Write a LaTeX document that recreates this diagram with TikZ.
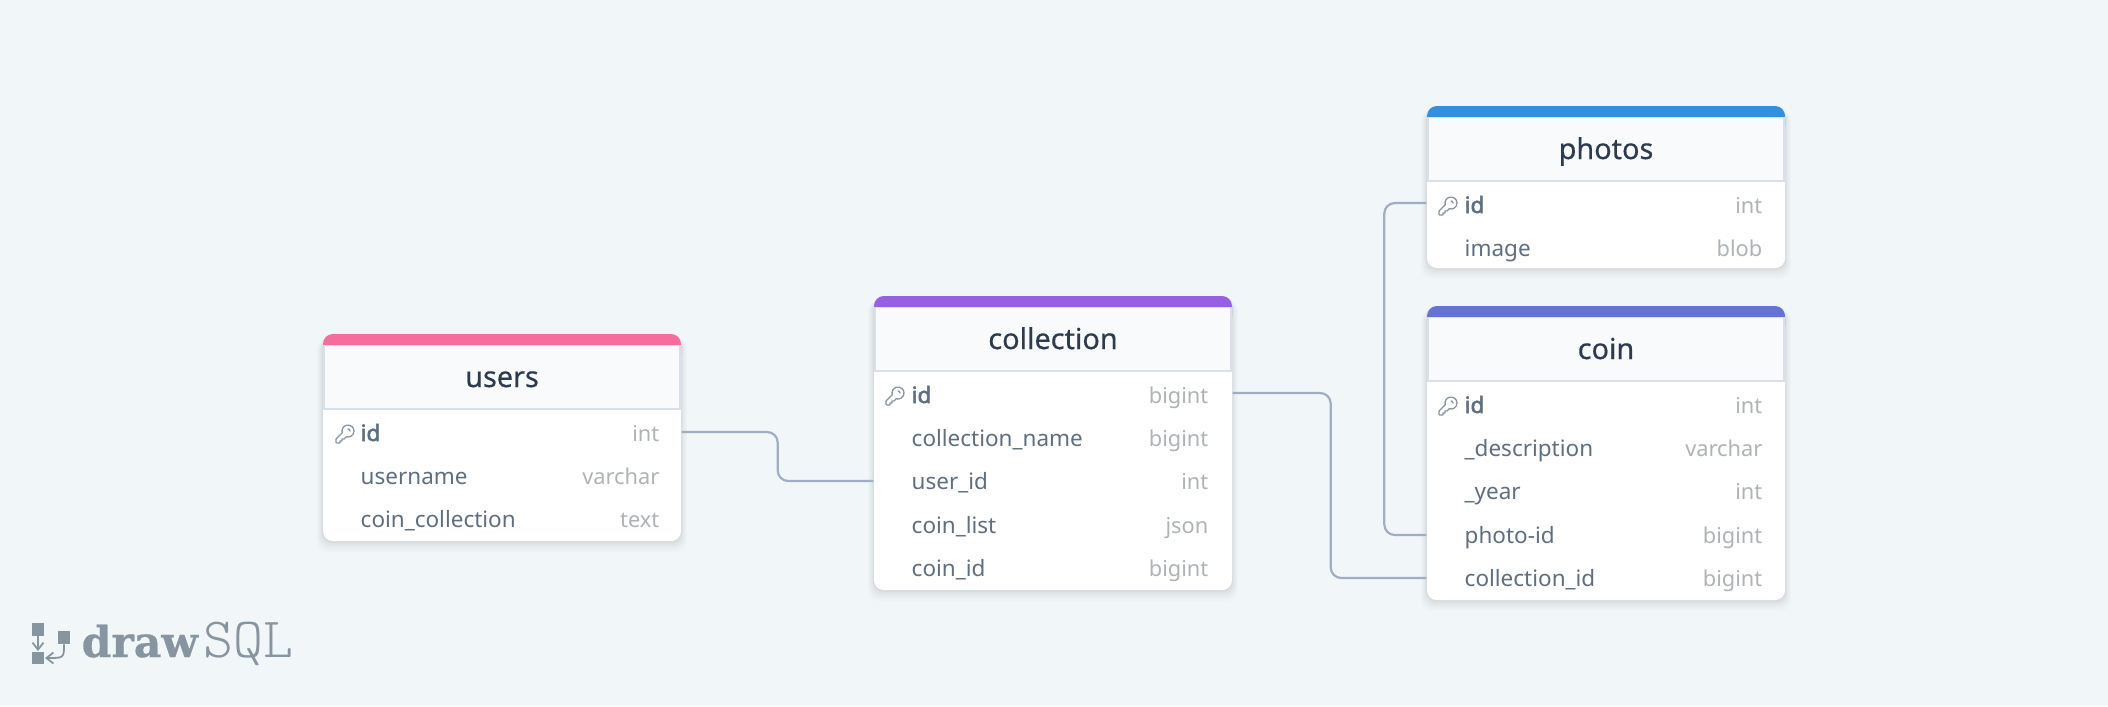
\documentclass[tikz,border=0pt]{standalone}
\usepackage{fontspec}
\setmainfont{Noto Sans}
\newfontfamily\slabfont{DejaVu Serif}[FakeBold=0.6]
\newfontfamily\keyfieldfont{Noto Sans}[FakeBold=2.2]
\newfontfamily\titlefont{Noto Sans}[FakeBold=0.4]
\usetikzlibrary{positioning,svg.path,arrows.meta}
\definecolor{pagebg}{HTML}{F1F6F9}
\definecolor{headbg}{HTML}{F8FAFC}
\definecolor{headline}{HTML}{D8E0EA}
\definecolor{titletext}{HTML}{2D3B50}
\definecolor{fieldtext}{HTML}{5F6F7F}
\definecolor{typetext}{HTML}{B0B3B6}
\definecolor{linkline}{HTML}{A0AEC4}
\definecolor{logotext}{HTML}{8795A1}
\definecolor{bandpink}{HTML}{F66D9B}
\definecolor{bandviolet}{HTML}{9561E2}
\definecolor{bandblue}{HTML}{3490DC}
\definecolor{bandindigo}{HTML}{6574CD}
\tikzset{
	tablebody/.style={fill=white,draw=none,rounded corners=2.8},
	tablehead/.style={fill=headbg,draw=headline,line width=0.16mm},
	tabletitle/.style={text=titletext,font=\titlefont\fontsize{8.2}{10}\selectfont,anchor=base},
	fieldrow/.style={minimum width=3.58cm,minimum height=0.43cm,inner sep=0pt,anchor=center},
	fieldname/.style={text=fieldtext,font=\fontsize{6.4}{8}\selectfont,anchor=base west,inner sep=0pt},
	fieldtype/.style={text=typetext,font=\fontsize{6.2}{8}\selectfont,anchor=base east,inner sep=0pt},
	keyicon/.style={draw=logotext,line width=0.13mm,line join=round,line cap=round},
	linkpath/.style={draw=linkline,line width=0.22mm,rounded corners=3},
	logobox/.style={fill=logotext,draw=none,minimum size=0.125cm,inner sep=0pt},
	logolink/.style={logotext,line width=0.18mm,-{Straight Barb[length=0.7mm,width=1.1mm]}}
}
% table frame: left, top, bottom, colour
\newcommand{\tableframe}[4]{
	\foreach \spread/\op in {5/0.012,4/0.015,3/0.02,2/0.025,1/0.03}
		\fill [black,opacity=\op,rounded corners=3] (#1-\spread*0.012,-#2-0.04) rectangle (#1+3.58+\spread*0.012,-#3-\spread*0.022);
	\fill [tablebody] (#1,-#2) rectangle (#1+3.58,-#3);
	\fill [#4,rounded corners=2.8] (#1,-#2) rectangle (#1+3.58,-#2-0.3);
	\draw [tablehead] (#1+0.008,-#2-0.115) rectangle (#1+3.572,-#2-0.75);
}
% key glyph, the box is 24 units wide and one unit is 0.01cm
\newcommand{\keyglyph}[2]{
	\draw [keyicon,shift={(#1,-#2)},xscale=0.2845,yscale=-0.2845] svg {M15 7 a2 2 0 0 1 2 2 m4 0 a6 6 0 0 1 -7.743 5.743 L11 17 H9 v2 H7 v2 H4 a1 1 0 0 1 -1 -1 v-2.586 a1 1 0 0 1 .293 -.707 l5.964 -5.964 A6 6 0 1 1 21 9 z};
}
\begin{document}
\begin{tikzpicture}
	\fill [pagebg] (0,0) rectangle (21.08,-7.06);
	\useasboundingbox (0,0) rectangle (21.08,-7.06);

	% users
	\tableframe{3.23}{3.34}{5.41}{bandpink}
	\node [tabletitle] (users) at (5.02,-3.87) {users};
	\node [fieldrow] (usersid) at (5.02,-4.32) {};
	\node [fieldrow] (usersname) at (5.02,-4.76) {};
	\node [fieldrow] (userscoll) at (5.02,-5.19) {};
	\keyglyph{3.33}{4.22}
	\node [fieldname] (usersidl) at (3.60,-4.41) {\keyfieldfont id};
	\node [fieldtype] (usersidt) at (6.60,-4.41) {int};
	\node [fieldname] (usersnamel) at (3.60,-4.84) {username};
	\node [fieldtype] (usersnamet) at (6.60,-4.84) {varchar};
	\node [fieldname] (userscolll) at (3.60,-5.27) {coin\_collection};
	\node [fieldtype] (userscollt) at (6.60,-5.27) {text};

	% collection
	\tableframe{8.74}{2.96}{5.90}{bandviolet}
	\node [tabletitle] (collection) at (10.53,-3.49) {collection};
	\node [fieldrow] (collid) at (10.53,-3.93) {};
	\node [fieldrow] (collname) at (10.53,-4.38) {};
	\node [fieldrow] (colluser) at (10.53,-4.81) {};
	\node [fieldrow] (colllist) at (10.53,-5.25) {};
	\node [fieldrow] (collcoin) at (10.53,-5.68) {};
	\keyglyph{8.83}{3.84}
	\node [fieldname] (collidl) at (9.11,-4.03) {\keyfieldfont id};
	\node [fieldtype] (collidt) at (12.09,-4.03) {bigint};
	\node [fieldname] (collnamel) at (9.11,-4.46) {collection\_name};
	\node [fieldtype] (collnamet) at (12.09,-4.46) {bigint};
	\node [fieldname] (colluserl) at (9.11,-4.895) {user\_id};
	\node [fieldtype] (collusert) at (12.09,-4.895) {int};
	\node [fieldname] (colllistl) at (9.11,-5.33) {coin\_list};
	\node [fieldtype] (colllistt) at (12.09,-5.33) {json};
	\node [fieldname] (collcoinl) at (9.11,-5.76) {coin\_id};
	\node [fieldtype] (collcoint) at (12.09,-5.76) {bigint};

	% photos
	\tableframe{14.27}{1.06}{2.68}{bandblue}
	\node [tabletitle] (photos) at (16.06,-1.59) {photos};
	\node [fieldrow] (photoid) at (16.06,-2.03) {};
	\node [fieldrow] (photoimg) at (16.06,-2.48) {};
	\keyglyph{14.36}{1.94}
	\node [fieldname] (photoidl) at (14.64,-2.13) {\keyfieldfont id};
	\node [fieldtype] (photoidt) at (17.63,-2.13) {int};
	\node [fieldname] (photoimgl) at (14.64,-2.56) {image};
	\node [fieldtype] (photoimgt) at (17.63,-2.56) {blob};

	% coin
	\tableframe{14.27}{3.06}{6.00}{bandindigo}
	\node [tabletitle] (coin) at (16.06,-3.59) {coin};
	\node [fieldrow] (coinid) at (16.06,-4.04) {};
	\node [fieldrow] (coindesc) at (16.06,-4.48) {};
	\node [fieldrow] (coinyear) at (16.06,-4.91) {};
	\node [fieldrow] (coinphoto) at (16.06,-5.35) {};
	\node [fieldrow] (coincoll) at (16.06,-5.78) {};
	\keyglyph{14.36}{3.94}
	\node [fieldname] (coinidl) at (14.64,-4.13) {\keyfieldfont id};
	\node [fieldtype] (coinidt) at (17.63,-4.13) {int};
	\node [fieldname] (coindescl) at (14.64,-4.56) {\_description};
	\node [fieldtype] (coindesct) at (17.63,-4.56) {varchar};
	\node [fieldname] (coinyearl) at (14.64,-4.995) {\_year};
	\node [fieldtype] (coinyeart) at (17.63,-4.995) {int};
	\node [fieldname] (coinphotol) at (14.64,-5.43) {photo-id};
	\node [fieldtype] (coinphotot) at (17.63,-5.43) {bigint};
	\node [fieldname] (coincolll) at (14.64,-5.86) {collection\_id};
	\node [fieldtype] (coincollt) at (17.63,-5.86) {bigint};

	% links
	\draw [linkpath] (usersid.east) -- ++(0.96,0) |- (colluser.west);
	\draw [linkpath] (collid.east) -- ++(0.98,0) |- (coincoll.west);
	\draw [linkpath] (photoid.west) -- ++(-0.42,0) |- (coinphoto.west);

	% logo
	\node [logobox] (logoa) at (0.38,-6.295) {};
	\node [logobox] (logob) at (0.38,-6.58) {};
	\node [logobox] (logoc) at (0.64,-6.375) {};
	\draw [logolink] (logoa) -- (logob);
	\draw [logolink] (logoc) .. controls (0.64,-6.58) .. (logob);
	\node [anchor=base west,inner sep=0pt,text=logotext] (logodraw) at (0.81,-6.57) {\slabfont\bfseries\fontsize{12.1}{12}\selectfont draw};
	\node [anchor=base west,inner sep=0pt,text=logotext] (logosql) at (2.03,-6.57) {\ttfamily\fontseries{l}\fontsize{16.2}{16}\selectfont SQL};
\end{tikzpicture}
\end{document}
